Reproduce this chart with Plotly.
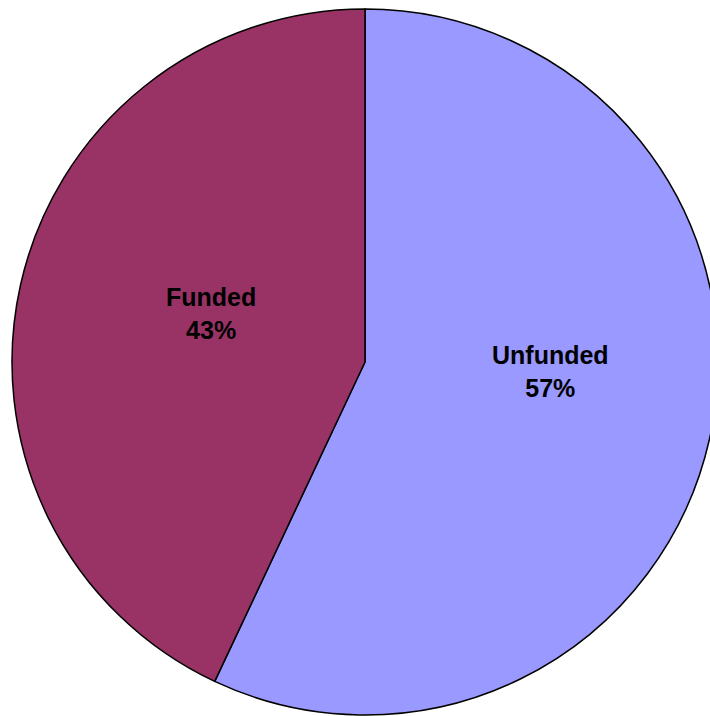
import plotly.graph_objects as go

# Funding split
labels = ["Unfunded", "Funded"]
values = [57, 43]
colors = ["#9999FF", "#993366"]
# label anchor points (pixel centres on the canvas)
label_px = [(550, 372), (211, 313)]

fig_w, fig_h = 730, 716

fig = go.Figure(
    go.Pie(
        labels=labels,
        values=values,
        sort=False,
        direction="clockwise",
        rotation=0,
        marker=dict(colors=colors, line=dict(color="black", width=1.5)),
        textinfo="none",
        hoverinfo="label+percent",
        showlegend=False,
        domain=dict(x=[12 / fig_w, 718 / fig_w], y=[1 / fig_h, 707 / fig_h]),
    )
)

total = sum(values)
for lab, val, (px, py) in zip(labels, values, label_px):
    fig.add_annotation(
        x=px / fig_w,
        y=1 - py / fig_h,
        xref="paper",
        yref="paper",
        xanchor="center",
        yanchor="middle",
        showarrow=False,
        text=f"<b>{lab}<br>{round(100 * val / total)}%</b>",
        font=dict(family="Liberation Sans, Arial, sans-serif", size=25, color="black"),
    )

fig.update_layout(
    width=fig_w,
    height=fig_h,
    autosize=False,
    margin=dict(l=0, r=0, t=0, b=0),
    paper_bgcolor="white",
    plot_bgcolor="white",
)

fig.write_html(
    "out.html",
    post_script="document.body.style.overflow='hidden';document.body.style.margin='0';",
)
